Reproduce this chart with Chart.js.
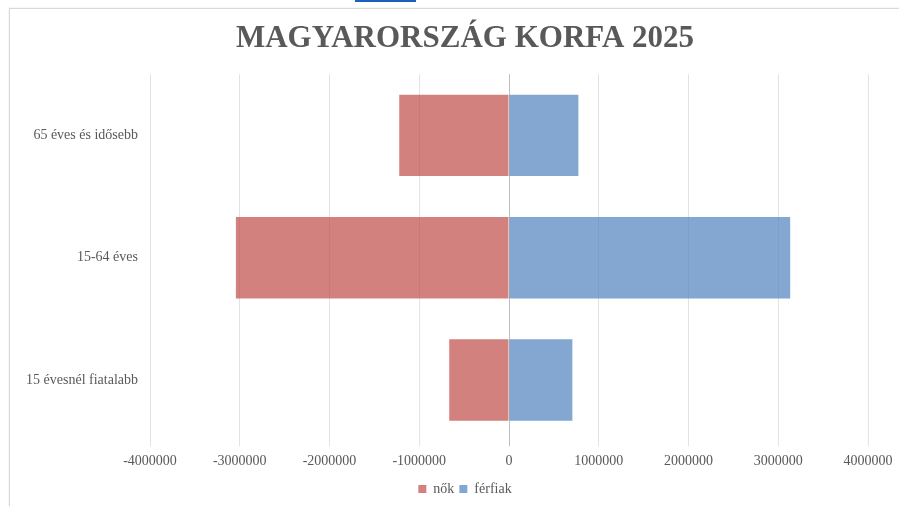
<!DOCTYPE html>
<html>
<head>
<meta charset="utf-8">
<script src="https://cdn.jsdelivr.net/npm/chart.js@4.4.0/dist/chart.umd.min.js"></script>
<style>
  html, body { margin: 0; padding: 0; background: #fff; overflow: hidden; }
  body { width: 899px; height: 506px; position: relative; }
  #frame { position: absolute; left: 9px; top: 8px; width: 1000px; height: 600px; border: 1px solid #d9d9d9; box-shadow: 0 0 2px #e6e6e6; }
  #link { position: absolute; left: 355px; top: 0; width: 61px; height: 2px; background: #1f5fbf; }
  #wrap { position: absolute; left: 0; top: 0; width: 930px; height: 506px; }
</style>
</head>
<body>
<div id="link"></div>
<div id="frame"></div>
<div id="wrap"><canvas id="korfa"></canvas></div>
<script>
// Korfa adatok (fő)
const categories = ['65 éves és idősebb', '15-64 éves', '15 évesnél fiatalabb'];
const nok = [-1223000, -3043000, -666000];
const ferfiak = [773000, 3133000, 706000];
const xTicks = [-4000000, -3000000, -2000000, -1000000, 0, 1000000, 2000000, 3000000, 4000000];

const textColor = '#595959';
const serif = "'Liberation Serif', 'Times New Roman', serif";

document.addEventListener('DOMContentLoaded', function() {
    const ctx = document.getElementById('korfa').getContext('2d');
    new Chart(ctx, {
        type: 'bar',
        data: {
            labels: categories,
            datasets: [{
                label: 'nők',
                data: nok,
                backgroundColor: 'rgba(192, 80, 77, 0.72)',
                borderWidth: 0,
                barPercentage: 0.666,
                categoryPercentage: 1
            }, {
                label: 'férfiak',
                data: ferfiak,
                backgroundColor: 'rgba(79, 129, 189, 0.7)',
                borderWidth: 0,
                barPercentage: 0.666,
                categoryPercentage: 1
            }]
        },
        options: {
            indexAxis: 'y',
            responsive: true,
            maintainAspectRatio: false,
            animation: false,
            layout: {
                padding: { left: 10, right: 10, top: 8, bottom: 0 }
            },
            scales: {
                x: {
                    stacked: true,
                    min: -4000000,
                    max: 4000000,
                    afterBuildTicks: function(scale) {
                        scale.ticks = xTicks.map(v => ({ value: v }));
                    },
                    border: { display: false },
                    grid: {
                        color: c => (c.tick && c.tick.value === 0) ? '#bfbfbf' : '#e3e3e3',
                        lineWidth: 1,
                        tickLength: 5
                    },
                    ticks: {
                        color: textColor,
                        font: { family: serif, size: 14 },
                        padding: 7,
                        maxRotation: 0,
                        callback: v => String(v)
                    }
                },
                y: {
                    stacked: true,
                    afterFit: function(scale) { scale.width = 140; },
                    border: { display: false },
                    grid: { display: false, drawTicks: false },
                    ticks: {
                        color: textColor,
                        font: { family: serif, size: 14 },
                        padding: 12
                    }
                },
                // empty right-hand box so that the plot ends where the original does
                spacer: {
                    type: 'category',
                    axis: 'y',
                    position: 'right',
                    labels: categories,
                    afterFit: function(scale) { scale.width = 52; },
                    border: { display: false },
                    grid: { display: false, drawTicks: false },
                    ticks: { display: false }
                }
            },
            plugins: {
                title: {
                    display: true,
                    text: 'MAGYARORSZÁG KORFA 2025',
                    color: textColor,
                    font: { family: serif, size: 31, weight: 'bold' },
                    padding: { top: 12, bottom: 17 }
                },
                legend: {
                    position: 'bottom',
                    labels: {
                        boxWidth: 8,
                        boxHeight: 8,
                        color: textColor,
                        font: { family: serif, size: 14 },
                        padding: 5
                    }
                },
                tooltip: { enabled: false }
            }
        }
    });
});
</script>
</body>
</html>
